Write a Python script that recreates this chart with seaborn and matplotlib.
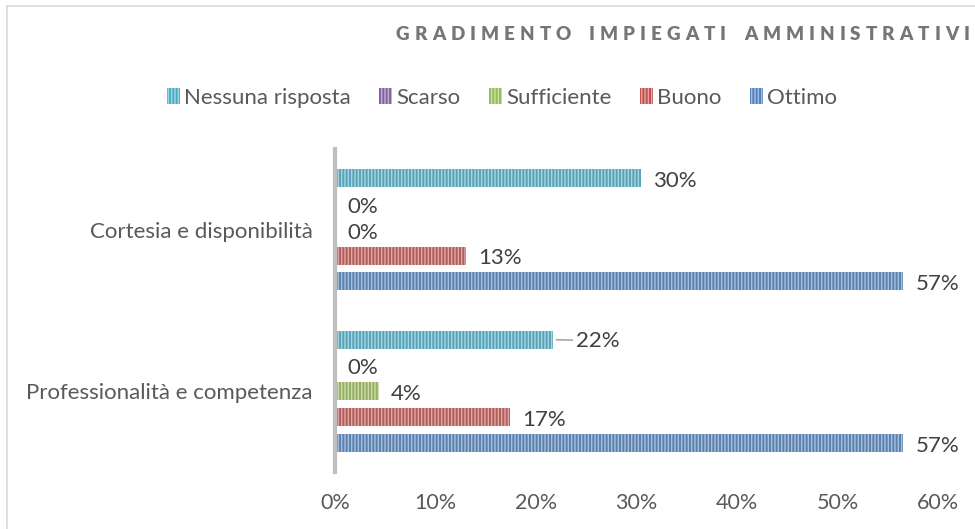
import pandas as pd
import matplotlib.pyplot as plt
import matplotlib.colors as mcolors
from matplotlib.patches import Patch
from matplotlib.lines import Line2D
from matplotlib.ticker import PercentFormatter
import seaborn as sns

# dati (quote sul totale delle risposte)
categorie = ['Cortesia e disponibilità', 'Professionalità e competenza']
giudizi = ['Nessuna risposta', 'Scarso', 'Sufficiente', 'Buono', 'Ottimo']
cortesia = [0.3043, 0.0, 0.0, 0.1304, 0.5652]
professionalita = [0.2174, 0.0, 0.0435, 0.1739, 0.5652]
colori = ['#4BACC6', '#8064A2', '#9BBB59', '#C0504D', '#4F81BD']
titolo = 'GRADIMENTO IMPIEGATI AMMINISTRATIVI'

data = pd.DataFrame({
    'Categoria': [categorie[0]] * 5 + [categorie[1]] * 5,
    'Giudizio': giudizi * 2,
    'Quota': cortesia + professionalita,
})

sns.set_style('white')
plt.rcParams['font.family'] = ['Lato', 'DejaVu Sans']
plt.rcParams['hatch.linewidth'] = 1.0

W, H = 975, 529
fig = plt.figure(figsize=(W / 100, H / 100), dpi=100)
ax = fig.add_axes([335 / W, 1 - 472 / H, (938 - 335) / W, (472 - 149) / H])

sns.barplot(data=data, x='Quota', y='Categoria', hue='Giudizio',
            order=categorie, hue_order=giudizi, palette=colori,
            orient='h', width=0.8, gap=0.3, legend=False, ax=ax)


def chiaro(c, f=0.5):
    r, g, b = mcolors.to_rgb(c)
    return (r + (1 - r) * f, g + (1 - g) * f, b + (1 - b) * f)


# riempimento a righe verticali come nel grafico originale
for cont, col in zip(ax.containers, colori):
    for bar in cont:
        bar.set_hatch('|||||')
        bar.set_edgecolor(chiaro(col))
        bar.set_linewidth(0)

# etichette dati
for cont in ax.containers:
    for bar in cont:
        v = bar.get_width()
        y = bar.get_y() + bar.get_height() / 2
        testo = f'{v * 100:.0f}%'
        if abs(v - 0.2174) < 1e-3:
            ax.annotate(testo, xy=(v, y), xytext=(16, -1), textcoords='offset points',
                        va='center', ha='left', fontsize=16, color='#404040',
                        arrowprops=dict(arrowstyle='-', color='#A6A6A6', lw=1.2,
                                        shrinkA=0, shrinkB=2))
        else:
            ax.annotate(testo, xy=(v, y), xytext=(9, -2), textcoords='offset points',
                        va='center', ha='left', fontsize=16, color='#404040')

ax.set_xlim(0, 0.6)
ax.set_ylim(1.5, -0.5)
ax.xaxis.set_major_formatter(PercentFormatter(1.0, decimals=0))
ax.set_xlabel('')
ax.set_ylabel('')
ax.tick_params(axis='x', length=0, pad=15, labelsize=15.5, labelcolor='#595959')
ax.tick_params(axis='y', length=0, pad=16, labelsize=16, labelcolor='#595959')
for s in ['top', 'right', 'bottom']:
    ax.spines[s].set_visible(False)
ax.spines['left'].set_color('#BFBFBF')
ax.spines['left'].set_linewidth(3)

# legenda in alto
maniglie = [Patch(facecolor=c, edgecolor=chiaro(c), hatch='|||||', lw=0) for c in colori]
fig.legend(maniglie, giudizi, loc='center', bbox_to_anchor=(502 / W, 1 - 98 / H),
           ncol=5, frameon=False, fontsize=16, handlelength=0.6, handleheight=0.75,
           handletextpad=0.2, columnspacing=1.25, labelcolor='#595959')

# bordo dell'area grafico (tagliato a destra e in basso)
fig.add_artist(Line2D([7 / W, 1], [1 - 6 / H, 1 - 6 / H], color='#D9D9D9', lw=1.2))
fig.add_artist(Line2D([7 / W, 7 / W], [0, 1 - 6 / H], color='#D9D9D9', lw=1.2))

# titolo spaziato lettera per lettera
fig.canvas.draw()
rend = fig.canvas.get_renderer()
x = 396
for ch in titolo:
    if ch == ' ':
        x += 13
        continue
    t = fig.text(x / W, 1 - 34 / H, ch, fontsize=13.5, fontweight='heavy',
                 color='#767676', va='center', ha='left')
    x += t.get_window_extent(rend).width + 5.0

fig.savefig('out.png', dpi=100)
